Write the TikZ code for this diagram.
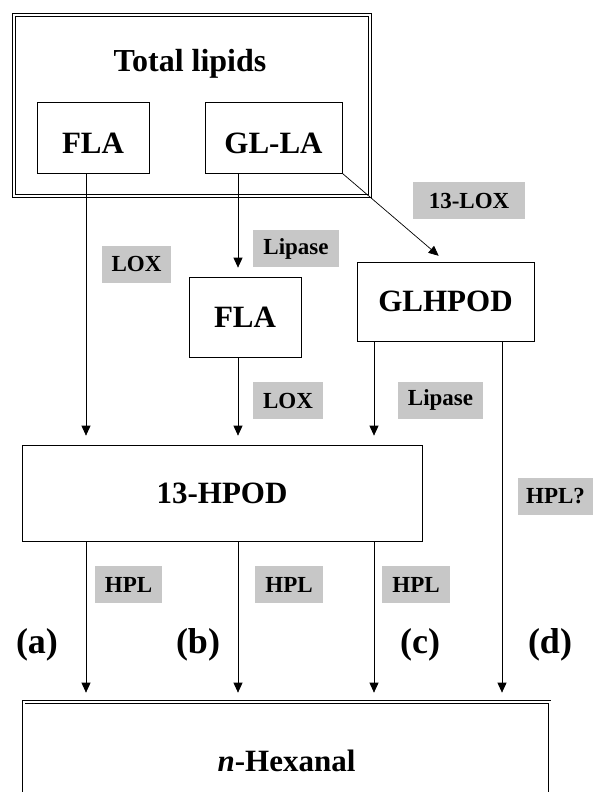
\documentclass[tikz,border=0pt]{standalone}
\usepackage{fontspec}
\setmainfont{Liberation Serif}
\usepackage{tikz}
\usetikzlibrary{positioning,arrows.meta}

\begin{document}
\begin{tikzpicture}[
    x=1pt,
    y=-1pt,
    >={Triangle[length=10pt,width=9pt]},
    line width=0.7pt
]

\tikzstyle{box}=[
    rectangle,
    draw,
    inner sep=0pt,
    font=\bfseries\fontsize{31}{31}\selectfont
]
\tikzstyle{enzyme}=[
    fill=black!22,
    inner xsep=10pt,
    minimum height=37pt,
    font=\bfseries\fontsize{23}{23}\selectfont
]
\tikzstyle{tag}=[font=\bfseries\fontsize{36}{36}\selectfont]
\tikzstyle{flow}=[->, shorten >=9pt]

\useasboundingbox (0,0) rectangle (594,792);
\clip (0,0) rectangle (594,792);


\node[box, double, double distance=2pt, minimum width=356pt, minimum height=181pt] (lipids) at (192,105.5) {};
\node[font=\bfseries\fontsize{32}{32}\selectfont] (title) at (190,64) {Total lipids};
\node[box, text height=32pt, minimum width=112pt, minimum height=71pt] (fla) at (93,137.5) {FLA};
\node[box, text height=32pt, minimum width=137pt, minimum height=71pt] (glla) at (273.5,137.5) {GL-LA};

\node[box, minimum width=112pt, minimum height=80pt] (fla2) at (245,317) {FLA};
\node[box, minimum width=177pt, minimum height=79pt] (glhpod) at (445.5,301.5) {GLHPOD};
\node[box, minimum width=400pt, minimum height=96pt] (hpod) at (222,493) {13-HPOD};
\node[box, double, double distance=2pt, minimum width=526pt, minimum height=118pt] (hex) at (286.5,761) {{\itshape n}-Hexanal};


\node[enzyme] (lox) at (136.5,264) {LOX};
\node[enzyme] (lipase) at (296,248.5) {Lipase};
\node[enzyme, minimum width=112pt] (lox13) at (469,200.5) {13-LOX};
\node[enzyme] (lox2) at (288,400.5) {LOX};
\node[enzyme] (lipase2) at (440.5,400) {Lipase};
\node[enzyme, inner xsep=8pt] (hplq) at (555.5,496) {HPL?};
\node[enzyme] (hpl1) at (128.5,584.5) {HPL};
\node[enzyme] (hpl2) at (289,584.5) {HPL};
\node[enzyme] (hpl3) at (416,584.5) {HPL};

\node[tag] (a) at (37,645) {(a)};
\node[tag] (b) at (198,645) {(b)};
\node[tag] (c) at (420,645) {(c)};
\node[tag] (d) at (550,645) {(d)};


\coordinate (ca) at (86,0);
\coordinate (cb) at (238,0);
\coordinate (cc) at (374,0);
\coordinate (cd) at (502,0);

\draw[flow] (ca |- fla.south) -- (ca |- hpod.north);
\draw[flow] (cb |- glla.south) -- (cb |- fla2.north);
\draw[flow] (cb |- fla2.south) -- (cb |- hpod.north);
\draw[flow] (glla.south east) -- (glhpod.north);
\draw[flow] (cc |- glhpod.south) -- (cc |- hpod.north);
\draw[flow] (cd |- glhpod.south) -- (cd |- hex.north);
\foreach \col in {ca,cb,cc}
    \draw[flow] (\col |- hpod.south) -- (\col |- hex.north);

\end{tikzpicture}
\end{document}
